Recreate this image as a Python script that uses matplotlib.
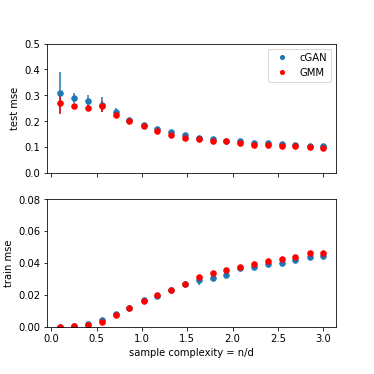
import numpy as np
import matplotlib
matplotlib.use('Agg')
from matplotlib import pyplot as plt
from matplotlib.lines import Line2D

# sample complexity n/d
x = [0.10, 0.25, 0.41, 0.56, 0.71, 0.86, 1.02, 1.17, 1.32, 1.47,
     1.63, 1.78, 1.93, 2.08, 2.24, 2.39, 2.54, 2.69, 2.85, 3.00]

test_cgan = [0.310, 0.290, 0.277, 0.264, 0.234, 0.205, 0.186, 0.169, 0.157, 0.148,
             0.136, 0.130, 0.123, 0.123, 0.117, 0.117, 0.112, 0.108, 0.105, 0.105]
test_cgan_err = [0.080, 0.020, 0.025, 0.030, 0.017, 0.008, 0.005, 0.005, 0.004, 0.004,
                 0.003, 0.003, 0.003, 0.003, 0.003, 0.003, 0.003, 0.002, 0.002, 0.002]
test_gmm = [0.270, 0.258, 0.251, 0.257, 0.222, 0.199, 0.183, 0.162, 0.147, 0.135,
            0.132, 0.123, 0.122, 0.114, 0.109, 0.106, 0.103, 0.103, 0.101, 0.097]
test_gmm_err = [0.042, 0.010, 0.010, 0.020, 0.006, 0.005, 0.004, 0.004, 0.004, 0.003,
                0.003, 0.003, 0.002, 0.002, 0.002, 0.002, 0.002, 0.002, 0.002, 0.002]

train_cgan = [0.0000, 0.0004, 0.0017, 0.0042, 0.0077, 0.0117, 0.0165, 0.0194, 0.0229, 0.0267,
              0.0292, 0.0302, 0.0327, 0.0367, 0.0373, 0.0390, 0.0402, 0.0421, 0.0440, 0.0442]
train_cgan_err = [0.0001, 0.0002, 0.0003, 0.0003, 0.0003, 0.0004, 0.0004, 0.0006, 0.0004, 0.0004,
                  0.0030, 0.0005, 0.0005, 0.0005, 0.0005, 0.0015, 0.0005, 0.0005, 0.0005, 0.0005]
train_gmm = [0.0000, 0.0002, 0.0010, 0.0031, 0.0075, 0.0115, 0.0158, 0.0198, 0.0229, 0.0267,
             0.0310, 0.0338, 0.0356, 0.0373, 0.0394, 0.0412, 0.0427, 0.0435, 0.0460, 0.0460]
train_gmm_err = [0.0001, 0.0001, 0.0002, 0.0002, 0.0003, 0.0003, 0.0003, 0.0003, 0.0003, 0.0003,
                 0.0004, 0.0004, 0.0004, 0.0004, 0.0004, 0.0004, 0.0004, 0.0004, 0.0004, 0.0004]

fig = plt.figure(figsize=(5.2, 5.2), dpi=72)
ax1 = fig.add_axes([0.1257, 0.5374, 0.773, 0.345])
ax2 = fig.add_axes([0.1257, 0.1265, 0.773, 0.3406], sharex=ax1)

ax1.errorbar(x, test_cgan, yerr=test_cgan_err, fmt='o', color='tab:blue', ms=5.5, lw=1.5)
ax1.errorbar(x, test_gmm, yerr=test_gmm_err, fmt='o', color='red', ms=5.5, lw=1.5)
ax1.set_ylim(0, 0.5)
ax1.tick_params(labelbottom=False)
ax1.set_ylabel('test mse')
handles = [Line2D([], [], ls='', marker='o', color='tab:blue', ms=4),
           Line2D([], [], ls='', marker='o', color='red', ms=4)]
ax1.legend(handles, ['cGAN', 'GMM'], loc='upper right')

ax2.errorbar(x, train_cgan, yerr=train_cgan_err, fmt='o', color='tab:blue', ms=5.5, lw=1.5)
ax2.errorbar(x, train_gmm, yerr=train_gmm_err, fmt='o', color='red', ms=5.5, lw=1.5)
ax2.set_ylim(0, 0.08)
ax2.set_yticks([0, 0.02, 0.04, 0.06, 0.08])
ax2.set_xlabel('sample complexity = n/d')
ax2.set_ylabel('train mse')

fig.savefig('out.png', dpi=72)
